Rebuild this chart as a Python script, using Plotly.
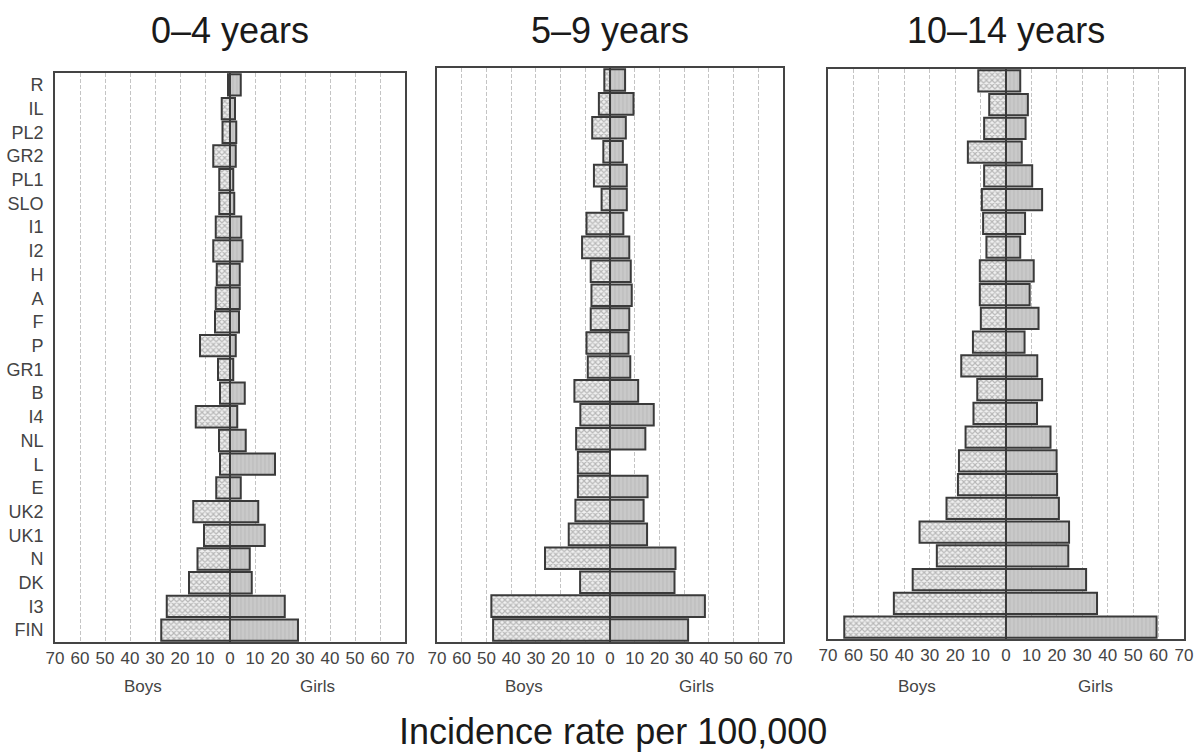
import plotly.graph_objects as go

categories = ["R", "IL", "PL2", "GR2", "PL1", "SLO", "I1", "I2", "H", "A", "F", "P",
              "GR1", "B", "I4", "NL", "L", "E", "UK2", "UK1", "N", "DK", "I3", "FIN"]

panel_titles = ["0\u20134 years", "5\u20139 years", "10\u201314 years"]

boys_0_4 = [0.8, 3.3, 3.0, 6.7, 4.3, 4.3, 5.7, 6.7, 5.3, 5.7, 6.0, 12.0,
            4.8, 4.0, 13.7, 4.4, 4.0, 5.5, 14.7, 10.4, 13.0, 16.4, 25.3, 27.5]
girls_0_4 = [4.3, 2.0, 2.5, 2.3, 1.3, 1.7, 4.5, 5.0, 3.9, 3.9, 3.6, 2.3,
             1.3, 5.9, 2.9, 6.3, 18.0, 4.3, 11.3, 13.9, 7.9, 8.7, 21.9, 27.2]

boys_5_9 = [2.3, 4.5, 7.2, 2.7, 6.5, 3.4, 9.5, 11.3, 7.8, 7.5, 7.8, 9.5,
            9.0, 14.4, 12.0, 13.7, 13.0, 13.0, 14.0, 16.7, 26.3, 12.1, 48.0, 47.3]
girls_5_9 = [6.1, 9.5, 6.4, 5.2, 6.8, 6.8, 5.4, 7.8, 8.4, 8.8, 7.8, 7.5,
             8.2, 11.4, 17.7, 14.3, 0.0, 15.2, 13.6, 15.0, 26.5, 26.1, 38.4, 31.6]

boys_10_14 = [10.9, 6.6, 8.6, 15.0, 8.6, 9.5, 9.0, 7.7, 10.3, 10.3, 9.9, 13.0,
              17.6, 11.3, 12.8, 15.9, 18.5, 18.9, 23.4, 34.0, 27.2, 36.7, 44.1, 63.6]
girls_10_14 = [5.6, 8.6, 7.7, 6.2, 10.3, 14.2, 7.5, 5.6, 10.9, 9.3, 12.8, 7.3,
               12.3, 14.2, 12.2, 17.5, 19.9, 20.1, 20.8, 24.8, 24.5, 31.5, 35.8, 59.2]

tick_values = [-70, -60, -50, -40, -30, -20, -10, 0, 10, 20, 30, 40, 50, 60, 70]
tick_labels = ["70", "60", "50", "40", "30", "20", "10", "0", "10", "20", "30", "40", "50", "60", "70"]

boys_label = "Boys"
girls_label = "Girls"
x_title = "Incidence rate per 100,000"

W, H = 1196, 752
FONT = "Liberation Sans, Arial, Helvetica, sans-serif"

# panel boxes in pixels: (left, right, top, bottom)
boxes = [(55, 405, 73, 642), (437, 783, 68, 642), (828, 1184, 69, 639)]

panels = [(boys_0_4, girls_0_4), (boys_5_9, girls_5_9), (boys_10_14, girls_10_14)]

fig = go.Figure()

for i, ((boys, girls), box) in enumerate(zip(panels, boxes)):
    sfx = "" if i == 0 else str(i + 1)
    xa, ya = "x" + sfx, "y" + sfx
    fig.add_trace(go.Bar(
        y=categories, x=[-v for v in boys], orientation="h", width=0.9,
        xaxis=xa, yaxis=ya, showlegend=False, name=boys_label,
        marker=dict(color="#eeeeee",
                    line=dict(color="#3a3a3a", width=2),
                    pattern=dict(shape="x", fgcolor="#7e7e7e", bgcolor="#f0f0f0",
                                 size=4, solidity=0.5)),
    ))
    fig.add_trace(go.Bar(
        y=categories, x=girls, orientation="h", width=0.9,
        xaxis=xa, yaxis=ya, showlegend=False, name=girls_label,
        marker=dict(color="#c6c6c6",
                    line=dict(color="#3a3a3a", width=2),
                    pattern=dict(shape="|", fgcolor="#b0b0b0", bgcolor="#c9c9c9",
                                 size=4, solidity=0.3)),
    ))
    l, r, t, b = box
    fig.update_layout(**{
        "xaxis" + sfx: dict(
            domain=[l / W, r / W], range=[-70, 70], anchor=ya,
            tickmode="array", tickvals=tick_values, ticktext=tick_labels,
            tickfont=dict(family=FONT, size=17, color="#444444"),
            showgrid=True, gridcolor="#c4c4c4", gridwidth=1, griddash="4px,2px",
            zeroline=True, zerolinecolor="#333333", zerolinewidth=1.8,
            showline=True, linecolor="#444444", linewidth=1.6, mirror=True,
            ticks="", fixedrange=True,
        ),
        "yaxis" + sfx: dict(
            domain=[1 - b / H, 1 - t / H], anchor=xa,
            type="category", categoryorder="array", categoryarray=categories,
            range=[23.5, -0.5],
            showticklabels=(i == 0), ticks="", ticklabelstandoff=6,
            tickfont=dict(family=FONT, size=18, color="#444444"),
            showgrid=False, zeroline=False,
            showline=True, linecolor="#444444", linewidth=1.6, mirror=True,
            fixedrange=True,
        ),
    })
    # panel title
    fig.add_annotation(text=panel_titles[i], xref="paper", yref="paper",
                       x=(l + r) / 2 / W, y=1 - 31 / H, showarrow=False,
                       xanchor="center", yanchor="middle",
                       font=dict(family=FONT, size=36, color="#1a1a1a"))
    # Boys / Girls labels
    fig.add_annotation(text=boys_label, xref=xa, yref="paper", x=-35, y=1 - 686 / H,
                       showarrow=False, xanchor="center", yanchor="middle",
                       font=dict(family=FONT, size=17, color="#444444"))
    fig.add_annotation(text=girls_label, xref=xa, yref="paper", x=35, y=1 - 686 / H,
                       showarrow=False, xanchor="center", yanchor="middle",
                       font=dict(family=FONT, size=17, color="#444444"))

fig.add_annotation(text=x_title, xref="paper", yref="paper", x=613 / W, y=1 - 731 / H,
                   showarrow=False, xanchor="center", yanchor="middle",
                   font=dict(family=FONT, size=36, color="#1a1a1a"))

fig.update_layout(
    width=W, height=H, barmode="overlay", bargap=0.1,
    margin=dict(l=0, r=0, t=0, b=0, autoexpand=False),
    paper_bgcolor="white", plot_bgcolor="white",
    font=dict(family=FONT),
)

fig.write_html("out.html", config={"displayModeBar": False})
